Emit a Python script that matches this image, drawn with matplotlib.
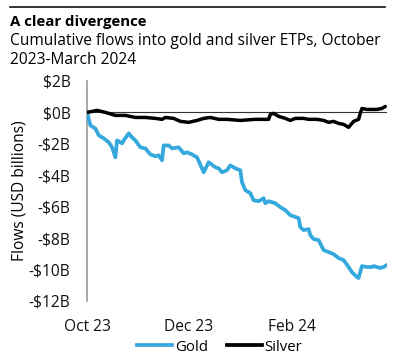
import matplotlib
matplotlib.use("Agg")
import matplotlib.pyplot as plt
from matplotlib.lines import Line2D
import pandas as pd

plt.rcParams["font.family"] = ["Open Sans", "DejaVu Sans"]

# ---------------------------------------------------------------------------
# Data (USD billions)
# ---------------------------------------------------------------------------
gold_dates = [
    "2023-10-01", "2023-10-03", "2023-10-06", "2023-10-08", "2023-10-11",
    "2023-10-14", "2023-10-16", "2023-10-18", "2023-10-19", "2023-10-22",
    "2023-10-23", "2023-10-26", "2023-10-28", "2023-10-30", "2023-11-02",
    "2023-11-05", "2023-11-08", "2023-11-11", "2023-11-13", "2023-11-15",
    "2023-11-16", "2023-11-19", "2023-11-21", "2023-11-25", "2023-11-28",
    "2023-11-30", "2023-12-03", "2023-12-06", "2023-12-10", "2023-12-13",
    "2023-12-17", "2023-12-19", "2023-12-21", "2023-12-24", "2023-12-26",
    "2023-12-29", "2024-01-01", "2024-01-02", "2024-01-04", "2024-01-07",
    "2024-01-09", "2024-01-12", "2024-01-15", "2024-01-16", "2024-01-18",
    "2024-01-22", "2024-01-25", "2024-01-28", "2024-01-31", "2024-02-05",
    "2024-02-06", "2024-02-08", "2024-02-11", "2024-02-12", "2024-02-14",
    "2024-02-17", "2024-02-20", "2024-02-23", "2024-02-26", "2024-02-29",
    "2024-03-03", "2024-03-06", "2024-03-08", "2024-03-11", "2024-03-12",
    "2024-03-14", "2024-03-17", "2024-03-20", "2024-03-21", "2024-03-25",
    "2024-03-27", "2024-03-29",
]
gold_flows = [
    0.00, -0.83, -1.02, -1.46, -1.65,
    -1.90, -2.22, -2.86, -1.78, -1.97,
    -1.78, -1.33, -1.59, -1.78, -2.22,
    -2.29, -2.67, -2.79, -2.73, -3.05,
    -2.10, -2.10, -2.29, -2.22, -2.60,
    -2.54, -2.67, -2.86, -3.81, -3.17,
    -3.49, -3.56, -3.81, -3.68, -3.37,
    -3.56, -3.68, -4.44, -4.95, -5.14,
    -5.59, -5.65, -5.46, -5.78, -5.65,
    -5.78, -6.03, -6.22, -6.54, -6.73,
    -7.30, -7.49, -7.43, -7.81, -8.06,
    -8.13, -8.76, -8.89, -9.02, -9.27,
    -9.40, -9.84, -10.16, -10.48, -10.54,
    -9.78, -9.84, -9.84, -9.78, -9.90,
    -9.84, -9.71,
]

silver_dates = [
    "2023-10-01", "2023-10-07", "2023-10-12", "2023-10-18", "2023-10-24",
    "2023-10-30", "2023-11-05", "2023-11-11", "2023-11-15", "2023-11-17",
    "2023-11-22", "2023-11-26", "2023-12-01", "2023-12-06", "2023-12-10",
    "2023-12-14", "2023-12-19", "2023-12-24", "2024-01-01", "2024-01-10",
    "2024-01-18", "2024-01-19", "2024-01-21", "2024-01-24", "2024-01-28",
    "2024-01-31", "2024-02-03", "2024-02-08", "2024-02-11", "2024-02-16",
    "2024-02-20", "2024-02-23", "2024-02-26", "2024-02-29", "2024-03-03",
    "2024-03-06", "2024-03-09", "2024-03-12", "2024-03-13", "2024-03-14",
    "2024-03-17", "2024-03-20", "2024-03-23", "2024-03-26", "2024-03-28",
]
silver_flows = [
    0.00, 0.13, 0.00, -0.19, -0.19,
    -0.32, -0.32, -0.38, -0.44, -0.32,
    -0.38, -0.57, -0.63, -0.51, -0.38,
    -0.32, -0.44, -0.44, -0.51, -0.44,
    -0.44, -0.13, -0.06, -0.25, -0.38,
    -0.51, -0.38, -0.38, -0.44, -0.44,
    -0.51, -0.63, -0.57, -0.70, -0.76,
    -0.95, -0.57, -0.44, -0.06, 0.25,
    0.19, 0.19, 0.19, 0.25, 0.38,
]

y_ticks = [2, 0, -2, -4, -6, -8, -10, -12]
x_ticks = ["2023-10-01", "2023-12-01", "2024-02-01"]
x_tick_labels = ["Oct 23", "Dec 23", "Feb 24"]

GOLD = "#35a9de"
SILVER = "#000000"
FS = 11.2

# ---------------------------------------------------------------------------
# Figure
# ---------------------------------------------------------------------------
fig = plt.figure(figsize=(3.94, 3.6), dpi=100)
ax = fig.add_axes([0.221, 0.164, 0.761, 0.611])

ax.plot(pd.to_datetime(gold_dates), gold_flows, color=GOLD, linewidth=2.7,
        solid_joinstyle="round", solid_capstyle="round", label="Gold", zorder=3)
ax.plot(pd.to_datetime(silver_dates), silver_flows, color=SILVER, linewidth=2.5,
        solid_joinstyle="round", solid_capstyle="round", label="Silver", zorder=4)
ax.axhline(0, color="#333333", linewidth=0.8, zorder=2)

ax.set_ylim(-12, 2)
ax.set_xlim(pd.Timestamp("2023-10-01"), pd.Timestamp("2024-03-29"))
ax.set_yticks(y_ticks)
ax.set_yticklabels([f"${v}B" if v >= 0 else f"-${-v}B" for v in y_ticks])
ax.set_xticks(pd.to_datetime(x_ticks))
ax.set_xticklabels(x_tick_labels)
ax.tick_params(length=0, labelsize=FS, colors="#111111")
ax.tick_params(axis="x", pad=13)
ax.tick_params(axis="y", pad=12)

for s in ["top", "right", "bottom"]:
    ax.spines[s].set_visible(False)
ax.spines["left"].set_color("#999999")
ax.spines["left"].set_linewidth(1.2)

ax.set_ylabel("Flows (USD billions)", fontsize=FS, labelpad=1)

handles = [Line2D([0], [0], color=GOLD, linewidth=2.7),
           Line2D([0], [0], color=SILVER, linewidth=2.7)]
fig.legend(handles, ["Gold", "Silver"], loc="center", bbox_to_anchor=(0.558, 0.036),
           ncol=2, frameon=False, fontsize=10.8, handlelength=2.3,
           handletextpad=0.2, columnspacing=1.3)

# Header
fig.add_artist(Line2D([10 / 394, 385 / 394], [1 - 7 / 360, 1 - 7 / 360],
                      color="#111111", linewidth=1.2))
fig.text(10 / 394, 1 - 22 / 360, "A clear divergence", fontsize=10.8,
         fontweight="bold", va="center", ha="left")
fig.text(10 / 394, 1 - 41 / 360, "Cumulative flows into gold and silver ETPs, October",
         fontsize=FS, va="center", ha="left")
fig.text(10 / 394, 1 - 60 / 360, "2023-March 2024", fontsize=FS,
         va="center", ha="left")

fig.savefig("out.png", dpi=100)
